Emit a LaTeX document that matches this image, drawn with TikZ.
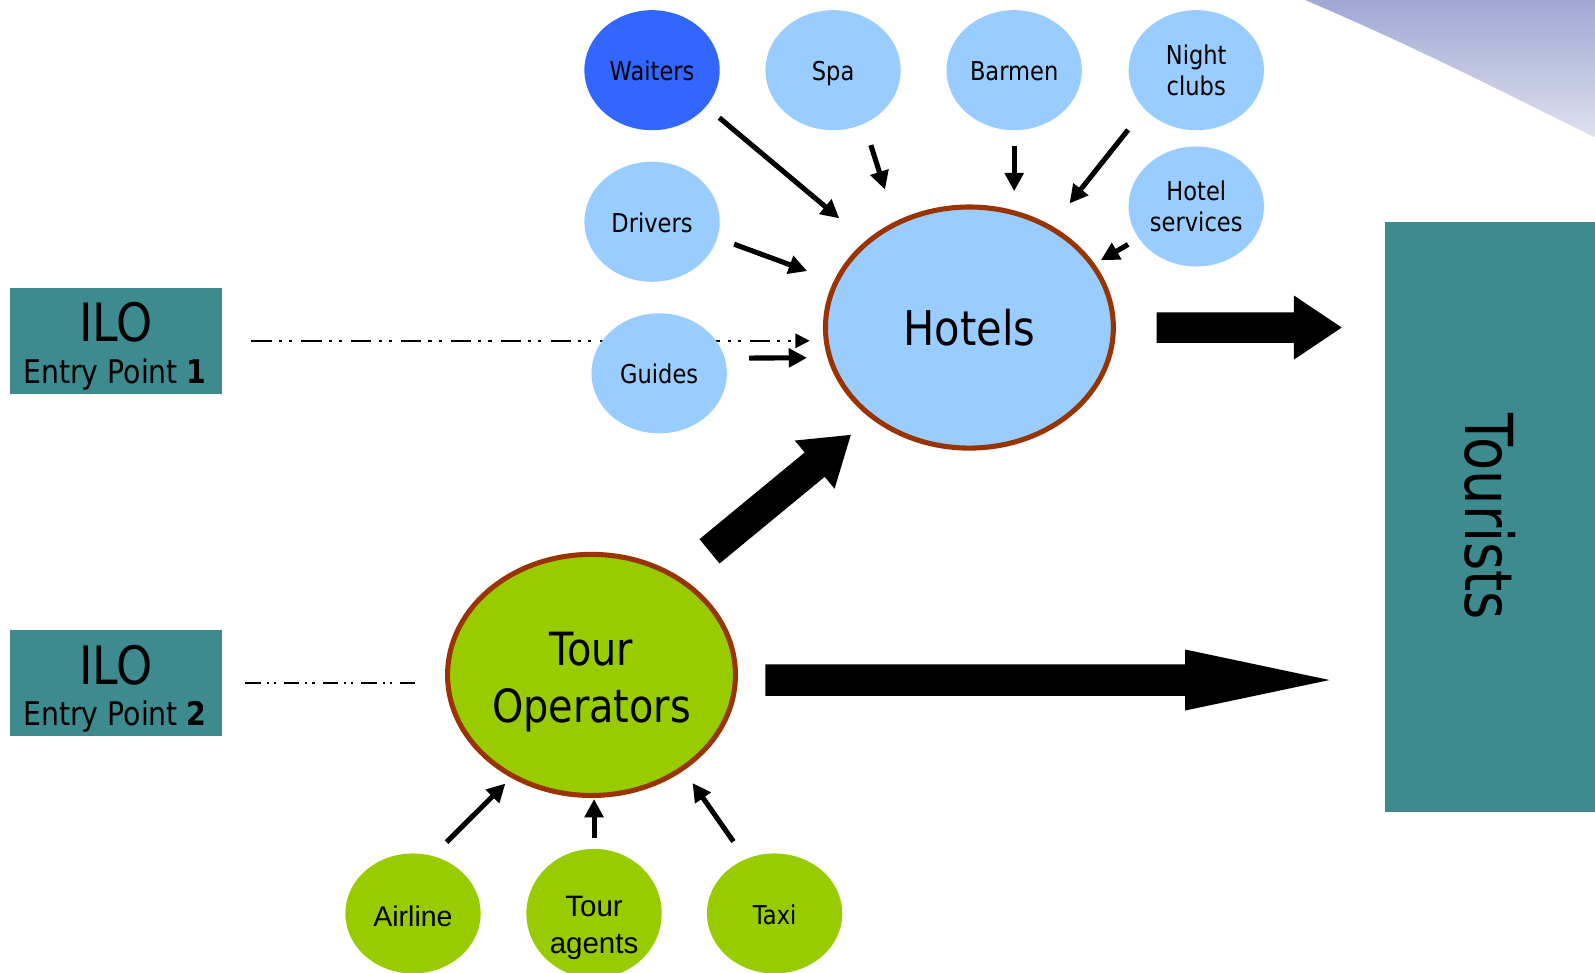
\documentclass[tikz,border=0pt]{standalone}
\usepackage{fontspec}
\usepackage{graphicx}
\usetikzlibrary{shapes.geometric,arrows.meta,calc}
\newfontfamily\tah[FakeStretch=0.87]{DejaVu Sans}
\newfontfamily\tahc[FakeStretch=0.82]{DejaVu Sans}
\newfontfamily\arl{Liberation Sans}
\definecolor{lblue}{HTML}{99CCFF}
\definecolor{dblue}{HTML}{3366FF}
\definecolor{lgreen}{HTML}{99CC00}
\definecolor{rim}{HTML}{993300}
\definecolor{iloteal}{HTML}{3D8B8F}
\definecolor{skytop}{RGB}{160,168,212}
\definecolor{skybot}{RGB}{222,225,238}
\pgfdeclarelayer{bg}
\pgfsetlayers{bg,main}
% #1 tail coordinate, #2 angle, #3 total length, #4 shaft half width, #5 head half width, #6 head length
\newcommand{\blockarrow}[6]{%
  \fill[shift={(#1)}, rotate=#2] (0,-#4) -- ({#3-#6},-#4) -- ({#3-#6},-#5) -- (#3,0)
    -- ({#3-#6},#5) -- ({#3-#6},#4) -- (0,#4) -- cycle;}
\tikzset{
  sat/.style={ellipse, minimum width=133pt, minimum height=118pt, inner sep=0pt},
  hsat/.style={sat, fill=lblue, font={\tah\fontsize{25.5}{31}\selectfont}, align=center},
  oneline/.style={text height=26pt, text depth=5.4pt},
  gsat/.style={sat, fill=lgreen},
  hub/.style={ellipse, draw=rim, line width=5pt, minimum width=283pt, minimum height=237pt, inner sep=0pt},
  ilobox/.style={rectangle, fill=iloteal, minimum width=208pt, minimum height=104pt, inner sep=0pt},
  ilotext/.style={anchor=base, inner sep=0pt, font={\tah\fontsize{52}{54}\selectfont}},
  entrytext/.style={anchor=base, inner sep=0pt, font={\tah\fontsize{32}{36}\selectfont}},
  arr/.style={line width=5pt, -{Triangle[length=18pt,width=18pt]}},
  ddone/.style={line width=2pt, dash pattern=on 20pt off 7pt on 3pt off 7pt on 3pt off 9pt},
  ddtwo/.style={line width=1.5pt, dash pattern=on 15pt off 6pt on 2pt off 5pt on 2pt off 8pt}
}
\begin{document}
\begin{tikzpicture}[x=1pt,y=-1pt]
\useasboundingbox (0,0) rectangle (1568,956);

% sky decoration, top right
\shade[top color=skytop, bottom color=skybot]
  (1283,0) .. controls (1400,50) and (1480,92) .. (1568,135) -- (1568,0) -- cycle;

% ILO boxes
\node[ilobox] (ilo1) at (114,335) {};
\node[ilotext] (ilo1a) at (114,336) {ILO};
\node[entrytext] (ilo1b) at (113,377) {Entry Point \textbf{1}};
\node[ilobox] (ilo2) at (114,671.5) {};
\node[ilotext] (ilo2a) at (114,672.5) {ILO};
\node[entrytext] (ilo2b) at (113,713.5) {Entry Point \textbf{2}};

% Tourists
\node[rectangle, fill=iloteal, minimum width=206pt, minimum height=580pt, inner sep=0pt,
      font={\tahc\fontsize{65}{70}\selectfont}] (tourists) at (1465,508) {\rotatebox{-90}{Tourists}};

% hubs
\node[hub, fill=lblue, font={\tah\fontsize{47}{56}\selectfont}] (hotels) at (953,322) {Hotels};
\node[hub, fill=lgreen, font={\tah\fontsize{45}{56.7}\selectfont}, align=center] (tourops) at (581.5,663.5)
  {\rule{0pt}{47pt}Tour\\Operators};

% hotel satellites
\node[hsat, oneline, fill=dblue] (waiters) at (641,69) {Waiters};
\node[hsat, oneline] (spa) at (819,69) {Spa};
\node[hsat, oneline] (barmen) at (997,69) {Barmen};
\node[hsat] (night) at (1176,69) {Night\\clubs};
\node[hsat, oneline] (drivers) at (641,218) {Drivers};
\node[hsat] (hserv) at (1176,203) {Hotel\\services};
\node[hsat, oneline] (guides) at (648,367) {Guides};

% tour operator satellites
\node[gsat, font={\arl\fontsize{28}{36}\selectfont}, text height=28pt, text depth=2pt] (airline) at (406,898) {Airline};
\node[gsat, font={\arl\fontsize{29}{36}\selectfont}, align=center] (tagents) at (584,898) {\rule{0pt}{47.8pt}Tour\\agents};
\node[gsat, font={\tah\fontsize{25.5}{31}\selectfont}, text height=27pt, text depth=5pt] (taxi) at (761.5,898) {Taxi};

% dash-dot lines behind the nodes
\begin{pgfonlayer}{bg}
\draw[ddone, -{Triangle[length=14pt,width=14pt]}, shorten <=29pt, shorten >=13pt]
  (ilo1.east) -- (ilo1.east -| hotels.west);
\draw[ddtwo, shorten <=23pt, shorten >=24.5pt] (ilo2.east) -- (ilo2.east -| tourops.west);
\end{pgfonlayer}

% small arrows into Hotels
\draw[arr, shorten <=17pt, shorten >=34pt] (waiters.-34) -- (hotels.140);
\draw[arr, shorten <=22pt, shorten >=33pt] (spa.-60) -- (hotels.125);
\draw[arr, shorten <=15pt, shorten >=13pt] (barmen.south) -- (barmen.south |- hotels.north);
\draw[arr, shorten <=26pt, shorten >=28pt] (night.217) -- (hotels.51);
\draw[arr, shorten <=12pt, shorten >=7pt] (hserv.209) -- (hotels.27);
\draw[arr, shorten <=17.6pt, shorten >=28pt] (drivers.-14) -- (hotels.161);
\draw[arr, shorten <=24pt, shorten >=20pt] (guides.13) -- (hotels.192);

% small arrows into Tour Operators
\draw[arr, shorten <=19pt, shorten >=8pt] (airline.71) -- (tourops.232);
\draw[arr, shorten <=10pt, shorten >=1pt] (tagents.north) -- (tagents.north |- tourops.south);
\draw[arr, shorten <=21pt, shorten >=15pt] (taxi.118) -- (tourops.-46);

% block arrows
\coordinate (htail) at ($(hotels.east)+(40,0)$);
\coordinate (ttail) at ($(tourops.east)+(27,5)$);
\coordinate (dtail) at ($(tourops.center)+(116,-121.5)$);
\blockarrow{htail}{0}{182}{15}{31.5}{47}
\blockarrow{ttail}{0}{554.5}{15.5}{30}{142}
\blockarrow{dtail}{39.5}{180}{15.5}{30.7}{46}
\end{tikzpicture}
\end{document}
